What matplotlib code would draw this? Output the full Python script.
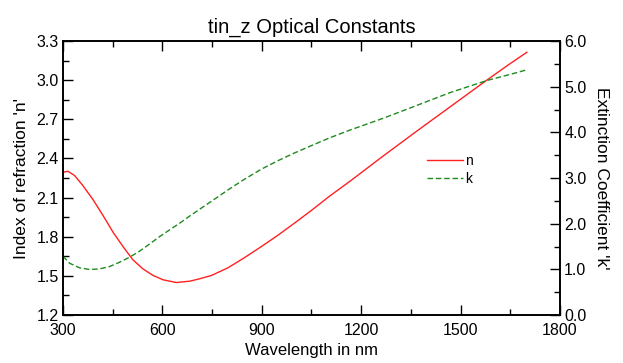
import matplotlib
matplotlib.use("Agg")
import matplotlib.pyplot as plt
from matplotlib.ticker import MultipleLocator

plt.rcParams['font.family'] = ['Liberation Sans', 'DejaVu Sans']

# wavelength (nm) and refractive index n
wl_n = [300, 315, 335, 360, 391, 421, 451, 481, 511, 541, 572, 602, 642,
        682, 707, 748, 798, 848, 899, 949, 999, 1050, 1105, 1166, 1267,
        1368, 1468, 1579, 1640, 1700]
n_vals = [2.294, 2.302, 2.269, 2.192, 2.083, 1.962, 1.835, 1.725, 1.623,
          1.554, 1.503, 1.470, 1.449, 1.459, 1.474, 1.503, 1.562, 1.640,
          1.725, 1.812, 1.905, 2.002, 2.112, 2.225, 2.42, 2.61, 2.795, 3.0,
          3.11, 3.214]

# wavelength (nm) and extinction coefficient k
wl_k = [300, 320, 350, 381, 411, 441, 471, 501, 531, 562, 592, 622, 652,
        682, 707, 748, 798, 848, 899, 949, 999, 1050, 1105, 1166, 1267,
        1368, 1468, 1579, 1650, 1700]
k_vals = [1.288, 1.134, 1.033, 0.996, 1.011, 1.062, 1.157, 1.266, 1.398,
          1.558, 1.719, 1.865, 2.01, 2.165, 2.29, 2.49, 2.74, 2.975, 3.195,
          3.38, 3.55, 3.71, 3.88, 4.05, 4.31, 4.59, 4.87, 5.135, 5.27, 5.37]

fig = plt.figure(figsize=(6.23, 3.63), dpi=100)
ax = fig.add_axes([0.1011, 0.1322, 0.7978, 0.7548])
ax2 = ax.twinx()

ln1, = ax.plot(wl_n, n_vals, color='#ff2020', lw=1.0, label='n')
ln2, = ax2.plot(wl_k, k_vals, color='#1f8a1f', lw=1.0, dashes=(4, 2), label='k')

ax.set_xlim(300, 1800)
ax.set_ylim(1.2, 3.3)
ax2.set_ylim(0, 6)

ax.xaxis.set_major_locator(MultipleLocator(300))
ax.xaxis.set_minor_locator(MultipleLocator(150))
ax.yaxis.set_major_locator(MultipleLocator(0.3))
ax.yaxis.set_minor_locator(MultipleLocator(0.15))
ax2.yaxis.set_major_locator(MultipleLocator(1.0))
ax2.yaxis.set_minor_locator(MultipleLocator(0.5))
ax.yaxis.set_major_formatter(plt.FormatStrFormatter('%.1f'))
ax2.yaxis.set_major_formatter(plt.FormatStrFormatter('%.1f'))

ax.tick_params(axis='x', which='both', direction='in', top=True, labelsize=11.5, pad=6)
ax.tick_params(axis='y', which='both', direction='in', labelsize=11.5, pad=3)
ax2.tick_params(axis='y', which='both', direction='in', labelsize=11.5, pad=3)
for a in (ax, ax2):
    a.tick_params(which='major', length=7, width=1)
    a.tick_params(which='minor', length=4, width=1)
    for s in a.spines.values():
        s.set_linewidth(1.2)

ax.set_xlabel('Wavelength in nm', fontsize=12, labelpad=3)
ax.set_ylabel("Index of refraction 'n'", fontsize=12.5, labelpad=5)
ax2.set_ylabel("Extinction Coefficient 'k'", fontsize=12.5, rotation=270, labelpad=16)
ax.set_title('tin_z Optical Constants', fontsize=14.5, pad=6)

ax.legend([ln1, ln2], ['n', 'k'], loc='upper left', bbox_to_anchor=(0.719, 0.613),
          frameon=False, fontsize=10, handlelength=2.6, handletextpad=0.1,
          labelspacing=0.3, borderpad=0)

fig.savefig('out.png', dpi=100)
